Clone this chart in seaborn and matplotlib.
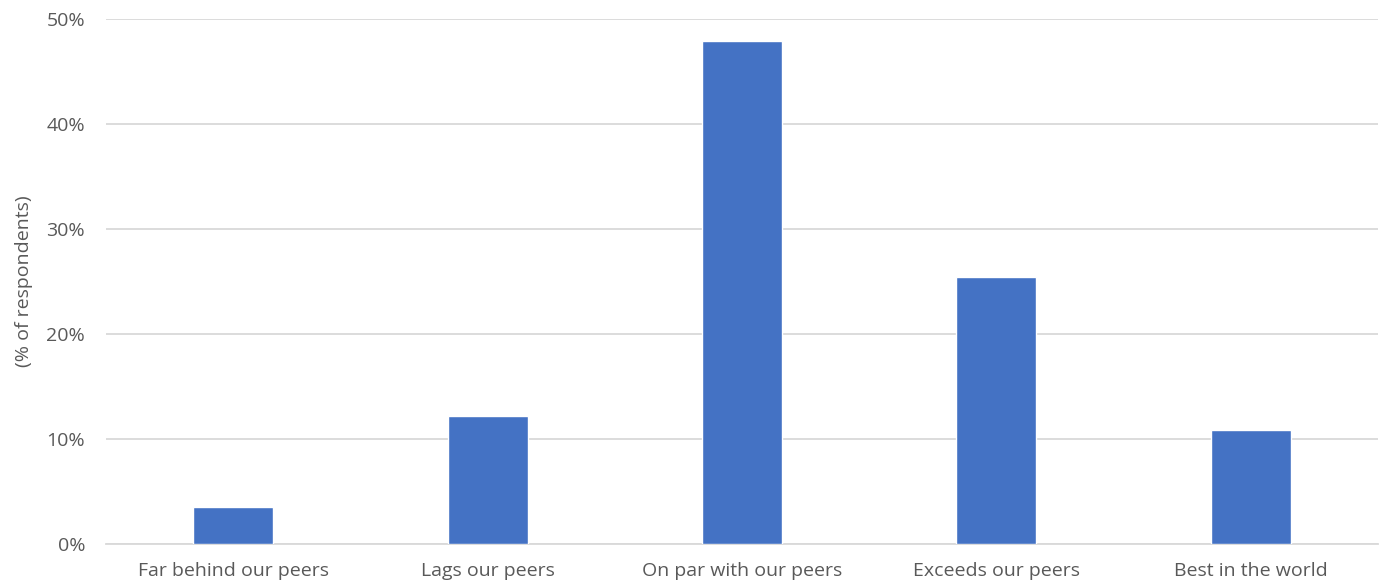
import pandas as pd
import matplotlib.pyplot as plt
import seaborn as sns
from matplotlib.ticker import PercentFormatter

categories = ["Far behind our peers", "Lags our peers", "On par with our peers",
              "Exceeds our peers", "Best in the world"]
values = [3.5, 12.2, 47.9, 25.4, 10.9]

df = pd.DataFrame({"category": categories, "pct": values})

sns.set_style("white")
plt.rcParams['font.family'] = ['Open Sans', 'DejaVu Sans']

fig = plt.figure(figsize=(13.83, 5.86), dpi=100)
ax = fig.add_axes([106 / 1383, 42 / 586, 1272 / 1383, 525 / 586])

sns.barplot(data=df, x="category", y="pct", color="#4472C4", width=0.315,
            saturation=1, ax=ax, zorder=3)

ax.set_ylim(0, 50)
ax.set_xlim(-0.5, 4.5)
ax.set_yticks([0, 10, 20, 30, 40, 50])
ax.yaxis.set_major_formatter(PercentFormatter(decimals=0))
ax.grid(axis="y", color="#d9d9d9", linewidth=1.3, zorder=0)
for s in ["top", "right", "left"]:
    ax.spines[s].set_visible(False)
ax.spines["bottom"].set_color("#d9d9d9")
ax.spines["bottom"].set_linewidth(1.3)

ax.set_xlabel("")
ax.set_ylabel("(% of respondents)", fontsize=14, color="#595959", labelpad=10)
ax.tick_params(axis="both", length=0, labelsize=14, labelcolor="#595959")
ax.tick_params(axis="y", pad=15)
ax.tick_params(axis="x", pad=13)

fig.savefig("out.png", dpi=100)
